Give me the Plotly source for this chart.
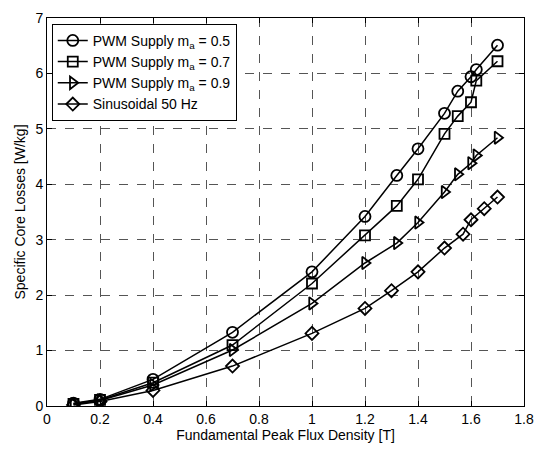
import plotly.graph_objects as go

x_pwm = [0.1, 0.2, 0.4, 0.7, 1.0, 1.2, 1.32, 1.4, 1.5, 1.55, 1.6, 1.62, 1.7]
x_sin = [0.1, 0.2, 0.4, 0.7, 1.0, 1.2, 1.3, 1.4, 1.5, 1.57, 1.6, 1.65, 1.7]
y_m05 = [0.05, 0.12, 0.48, 1.33, 2.42, 3.42, 4.16, 4.64, 5.28, 5.68, 5.94, 6.07, 6.51]
y_m07 = [0.04, 0.11, 0.42, 1.10, 2.21, 3.08, 3.61, 4.09, 4.91, 5.23, 5.48, 5.87, 6.22]
y_m09 = [0.03, 0.10, 0.38, 1.01, 1.85, 2.58, 2.94, 3.31, 3.86, 4.18, 4.38, 4.52, 4.84]
y_sin = [0.02, 0.08, 0.28, 0.72, 1.31, 1.76, 2.08, 2.42, 2.85, 3.10, 3.36, 3.56, 3.77]

names = ["PWM Supply m<sub>a</sub> = 0.5", "PWM Supply m<sub>a</sub> = 0.7",
         "PWM Supply m<sub>a</sub> = 0.9", "Sinusoidal 50 Hz"]
symbols = ["circle-open", "square-open", "triangle-right-open", "diamond-open"]
sizes = [11, 10, 11, 10]

FONT = "Liberation Sans, Arial"

fig = go.Figure()
for xs, ys, nm, sym, sz in zip([x_pwm, x_pwm, x_pwm, x_sin], [y_m05, y_m07, y_m09, y_sin], names, symbols, sizes):
    fig.add_trace(go.Scatter(x=xs, y=ys, name=nm, mode="lines+markers",
                             line=dict(color="black", width=1.5),
                             marker=dict(symbol=sym, size=sz, color="black",
                                         line=dict(color="black", width=1.8))))

axis_common = dict(showline=True, linecolor="black", linewidth=1, mirror="ticks",
                   ticks="inside", ticklen=5, tickcolor="black",
                   showgrid=True, gridcolor="#555555", griddash="dash", gridwidth=1,
                   zeroline=False, tickfont=dict(family=FONT, size=14, color="black"))

fig.update_xaxes(range=[0, 1.8], dtick=0.2, tickformat="~g",
                 title=dict(text="Fundamental Peak Flux Density [T]", standoff=2,
                            font=dict(family=FONT, size=14, color="black")),
                 **axis_common)
fig.update_yaxes(range=[0, 7], dtick=1,
                 title=dict(text="Specific Core Losses [W/kg]", standoff=6,
                            font=dict(family=FONT, size=14, color="black")),
                 **axis_common)

fig.update_layout(width=544, height=449, plot_bgcolor="white", paper_bgcolor="white",
                  margin=dict(l=47, r=10, t=15, b=42),
                  legend=dict(x=0.01, y=0.985, xanchor="left", yanchor="top",
                              bordercolor="black", borderwidth=1, bgcolor="white",
                              font=dict(family=FONT, size=14, color="black"),
                              tracegroupgap=0, itemwidth=30),
                  showlegend=True)

fig.write_html("out.html")
